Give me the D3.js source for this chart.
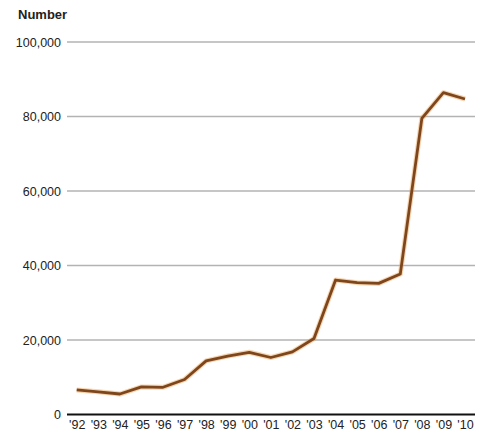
<!DOCTYPE html>
<html><head><meta charset="utf-8">
<script src="https://cdn.jsdelivr.net/npm/d3@7"></script>
<style>
body{margin:0;background:#fff;}
text{font-family:"Liberation Sans Narrow","Arial Narrow","Liberation Sans",sans-serif;fill:#222;}
</style></head>
<body><svg id="c" width="481" height="435"></svg>
<script>
const years = ["'92","'93","'94","'95","'96","'97","'98","'99","'00","'01","'02","'03","'04","'05","'06","'07","'08","'09","'10"];
const values = [6600,6100,5500,7400,7300,9400,14400,15700,16700,15300,16800,20400,36100,35400,35200,37700,79500,86400,84700];
const yTicks = [0,20000,40000,60000,80000,100000];
const yLabel = "Number";

const svg = d3.select("#c");
const gridLeft = 67, gridRight = 475;
const x = d3.scalePoint().domain(years).range([76.7, 465]);
const y = d3.scaleLinear().domain([0,100000]).range([414.5, 42]);

// gridlines
svg.append("g").selectAll("line").data(yTicks.filter(d=>d>0)).join("line")
  .attr("x1", gridLeft).attr("x2", gridRight)
  .attr("y1", d=>y(d)).attr("y2", d=>y(d))
  .attr("stroke", "#b3b3b3").attr("stroke-width", 1.5);

// y axis labels
const yAxis = d3.axisLeft(y).tickValues(yTicks).tickSize(0).tickPadding(0)
  .tickFormat(d3.format(","));
const gy = svg.append("g").attr("transform", `translate(61,0)`).call(yAxis);
gy.select(".domain").remove();
gy.selectAll("text").style("font-size","12.5px").attr("fill","#222").attr("dy","0.35em");

// baseline
svg.append("line").attr("x1", gridLeft).attr("x2", gridRight)
  .attr("y1", y(0)).attr("y2", y(0)).attr("stroke", "#111").attr("stroke-width", 2);

// x axis
const xAxis = d3.axisBottom(x).tickSize(0).tickPadding(0);
const gx = svg.append("g").attr("transform", `translate(0,${y(0)+6})`).call(xAxis);
gx.select(".domain").remove();
gx.selectAll("text").style("font-size","12.5px").attr("fill","#222").attr("dy","0.71em");

// title
svg.append("text").attr("x", 18).attr("y", 19).text(yLabel)
  .style("font-size","13px").style("font-weight","bold").attr("fill","#222");

// line
const line = d3.line().x((d,i)=>x(years[i])).y(d=>y(d));
svg.append("path").datum(values).attr("d", line).attr("fill","none")
  .attr("stroke","#e8a050").attr("stroke-opacity",0.45).attr("stroke-width",5).attr("stroke-linejoin","round");
svg.append("path").datum(values).attr("d", line).attr("fill","none")
  .attr("stroke","#7e461c").attr("stroke-width",2.8).attr("stroke-linejoin","round");
</script></body></html>
